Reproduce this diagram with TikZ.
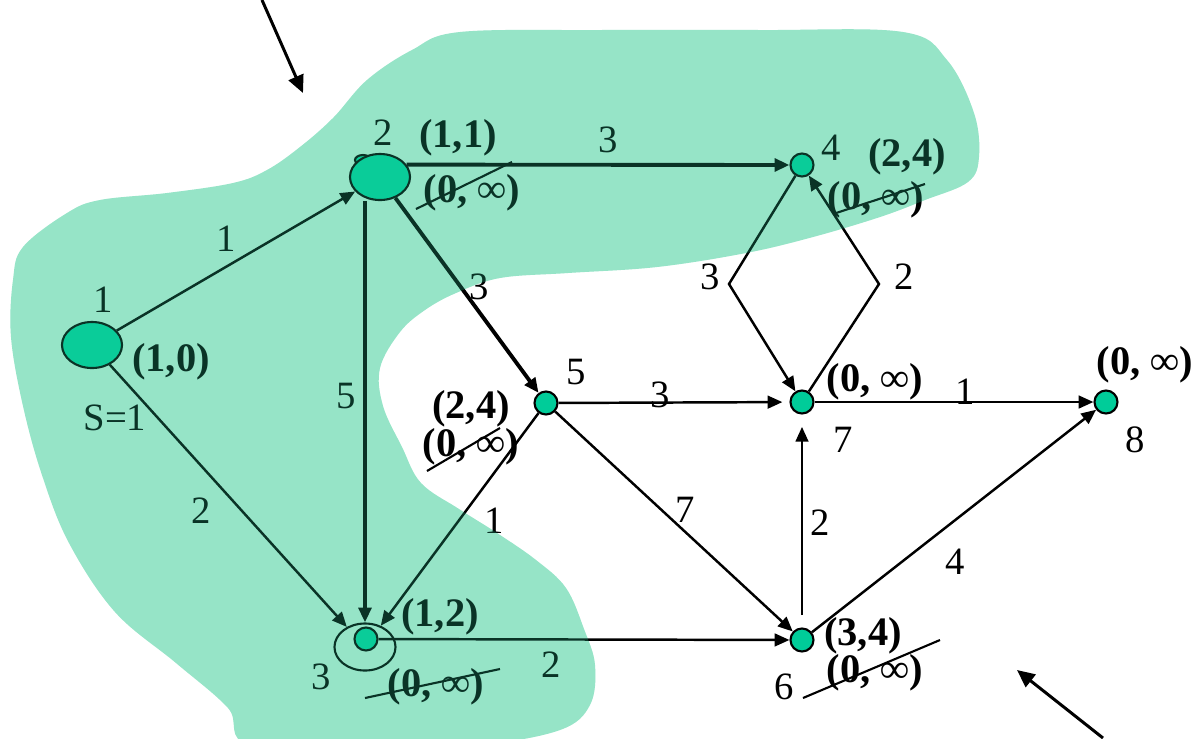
\documentclass[tikz,border=0pt]{standalone}
\usepackage{fontspec}
\setmainfont{Liberation Serif}
\usetikzlibrary{arrows.meta,shapes.geometric}

\definecolor{vgreen}{RGB}{0,204,153}
\definecolor{blobgreen}{RGB}{40,205,155}
\definecolor{blobback}{RGB}{187,236,215}

\begin{document}
\begin{tikzpicture}[x=0.01cm, y=-0.01cm, line width=0.7pt,
  >={Triangle[length=4.2pt,width=3.6pt]},
  vtx/.style={circle, draw, fill=vgreen, line width=0.6pt, minimum size=0.23cm, inner sep=0pt},
  bigvtx/.style={ellipse, draw, fill=vgreen, line width=0.6pt, minimum width=0.6cm, minimum height=0.46cm, inner sep=0pt},
  wt/.style={font=\fontsize{11}{13}\selectfont, inner sep=0pt},
  pair/.style={font=\fontsize{11.5}{13}\selectfont\bfseries, inner sep=0pt},
  heavy/.style={line width=1.1pt},
  strike/.style={line width=0.6pt}]
  \useasboundingbox (0,0) rectangle (1196,738);

  \def\blobpath{plot[smooth cycle, tension=0.6] coordinates {
      (23,247) (67,213) (100,200) (167,193) (233,183) (267,170) (300,147)
      (333,118) (367,80) (412,50) (460,32) (600,30) (760,30) (903,32)
      (947,60) (974,113) (979,157) (968,182) (925,200) (880,217) (813,237)
      (746,253) (657,267) (568,273) (500,278) (456,293) (425,310) (400,332)
      (380,368) (383,406) (402,447) (421,483) (459,509) (497,533) (536,560)
      (566,588) (584,629) (595,665) (590,705) (560,730) (480,745) (380,748)
      (250,745) (228,708) (176,663) (115,612) (69,543) (42,475) (23,406)
      (11,337) (13,280)}}

  % shaded set (under)
  \begin{scope}
    \clip (0,0) rectangle (1196,738);
    \fill[blobback] \blobpath;
  \end{scope}

  % vertices
  \draw[fill=vgreen, line width=0.6pt] (363,160) ellipse [x radius=0.08cm, y radius=0.05cm];
  \node[bigvtx] (n1) at (92,345) {};
  \node[bigvtx] (n2) at (380,177) {};
  \node[ellipse, draw, line width=0.6pt, minimum width=0.61cm, minimum height=0.47cm] (n3) at (365,647) {};
  \node[vtx] (n3c) at (366,639) {};
  \node[vtx] (n4) at (802,165) {};
  \node[vtx] (n5) at (546,403) {};
  \node[vtx] (n6) at (802,640) {};
  \node[vtx] (n7) at (802,402) {};
  \node[vtx] (n8) at (1106,402) {};
  \coordinate (dl) at (729,284);
  \coordinate (dr) at (879,284);

  % arcs
  \draw[->] (n1) -- (n2);
  \draw[->] (n1) -- (n3);
  \draw[->, heavy] (n3 |- n2.south) -- (n3.north);
  \draw[->, heavy] (n2) -- (n5);
  \draw[->, heavy] (n2.25) -- (n4);
  \draw[->] (n5) -- (n3);
  \draw[->, shorten >=2pt] (n5) -- (n7);
  \draw[->] (n5) -- (n6);
  \draw[->] (n3c) -- (n6);
  \draw[->, shorten <=3.5pt, shorten >=3.5pt] (n6) -- (n7);
  \draw[->] (n6) -- (n8);
  \draw[->] (n7) -- (n8);
  \draw[->] (n4) -- (dl) -- (n7);
  \draw[->] (n7) -- (dr) -- (n4);

  % vertex numbers
  \node[wt] (s1) at (103,300) {1};
  \node[wt] (s2) at (383,133) {2};
  \node[wt] (s3) at (321,677) {3};
  \node[wt] (s4) at (831,148) {4};
  \node[wt] (s5) at (576,372) {5};
  \node[wt] (s6) at (784,687) {6};
  \node[wt] (s7) at (843,440) {7};
  \node[wt] (s8) at (1135,440) {8};
  \node[wt] (src) at (115,418) {S=1};

  % weights
  \node[wt] (w12) at (226,239) {1};
  \node[wt] (w13) at (201,511) {2};
  \node[wt] (w23) at (346,396) {5};
  \node[wt] (w25) at (479,287) {3};
  \node[wt] (w24) at (608,140) {3};
  \node[wt] (w53) at (494,521) {1};
  \node[wt] (w57) at (660,395) {3};
  \node[wt] (w78) at (965,392) {1};
  \node[wt] (w56) at (685,510) {7};
  \node[wt] (w67) at (820,523) {2};
  \node[wt] (w68) at (955,562) {4};
  \node[wt] (w36) at (551,665) {2};
  \node[wt] (w47) at (710,277) {3};
  \node[wt] (w74) at (904,277) {2};

  % labels
  \node[pair] (p1) at (171,362) {(1,0)};
  \node[pair] (p2) at (458,138) {(1,1)};
  \node[pair] (q2) at (472,193) {(0, ∞)};
  \node[pair] (p4) at (907,157) {(2,4)};
  \node[pair] (q4) at (876,200) {(0, ∞)};
  \node[pair] (p5) at (471,409) {(2,4)};
  \node[pair] (q5) at (471,447) {(0, ∞)};
  \node[pair] (p3) at (440,617) {(1,2)};
  \node[pair] (q3) at (436,687) {(0, ∞)};
  \node[pair] (p7) at (875,382) {(0, ∞)};
  \node[pair] (p8) at (1145,365) {(0, ∞)};
  \node[pair] (p6) at (863,636) {(3,4)};
  \node[pair] (q6) at (875,673) {(0, ∞)};
  \draw[strike] (416,209) -- (512,162);
  \draw[strike] (833,214) -- (925,184);
  \draw[strike] (427,471) -- (500,428);
  \draw[strike] (365,698) -- (500,669);
  \draw[strike] (803,698) -- (940,640);

  % pointers
  \coordinate (ta) at (262,0);
  \coordinate (tb) at (303,93);
  \coordinate (ba) at (1103,738);
  \coordinate (bb) at (1017,670);
  \draw[->, line width=0.85pt, >={Triangle[length=5pt,width=4.5pt]}] (ta) -- (tb);
  \draw[->, line width=0.85pt, >={Triangle[length=5pt,width=4.5pt]}] (ba) -- (bb);

  % shaded set (tint on top)
  \begin{scope}
    \clip (0,0) rectangle (1196,738);
    \fill[blobgreen, fill opacity=0.25] \blobpath;
  \end{scope}
\end{tikzpicture}
\end{document}
